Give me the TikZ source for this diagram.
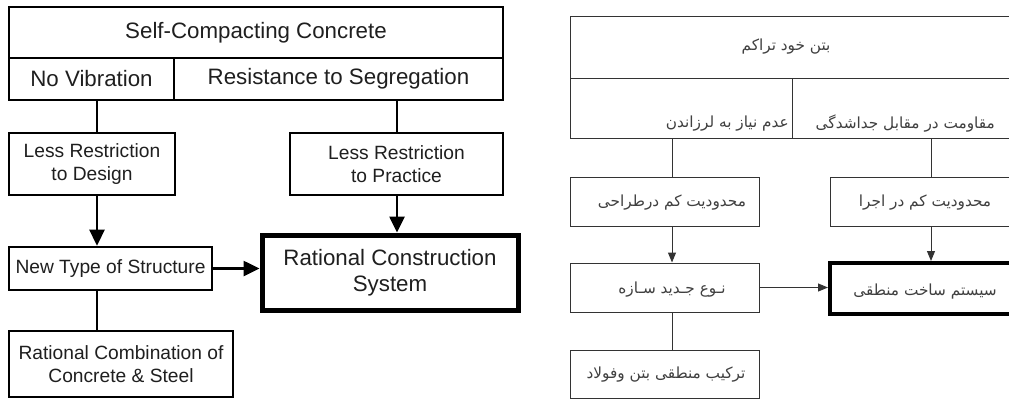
\documentclass[tikz,border=0pt]{standalone}
\usepackage{fontspec}
\setmainfont{Liberation Sans}
\newfontfamily\fa[Script=Arabic]{DejaVu Sans}
\TeXXeTstate=1
\usetikzlibrary{arrows.meta,calc}
\begin{document}
\begin{tikzpicture}[x=1pt,y=-1pt,
  box/.style={draw=black, line width=2.6pt, inner sep=0pt, align=center, text=black!88},
  heavybox/.style={box, line width=5pt},
  big/.style={font=\fontsize{22.3}{26}\selectfont},
  small/.style={font=\fontsize{19.2}{23}\selectfont},
  link/.style={draw=black, line width=2.6pt},
  arrowlink/.style={link, -{Triangle[width=15pt,length=16pt]}},
  pbox/.style={draw=black!80, line width=1pt, inner sep=0pt, text=black!75},
  pheavy/.style={pbox, draw=black, line width=4pt},
  ptxt/.style={inner sep=0pt, text=black!75, font=\fa\fontsize{15.3}{18}\selectfont},
  plink/.style={draw=black!80, line width=1pt},
  parrow/.style={plink, -{Triangle[width=8pt,length=10pt]}},
]
\useasboundingbox (0,0) rectangle (1009,400);
\clip (0,0) rectangle (1009,400);
\fill[white] (0,0) rectangle (1009,400);

% ---------------- English chart ----------------
\node[box, big, minimum width=494pt, minimum height=51pt] (scc) at (256,32.5) {Self-Compacting Concrete};
\node[box, big, minimum width=165pt, minimum height=42pt] (novib) at (91.5,79) {No Vibration};
\node[box, big, minimum width=329pt, minimum height=42pt] (segr) at (338.5,79) {Resistance to Segregation};
\node[box, small, minimum width=166pt, minimum height=62pt] (design) at (92,164) {Less Restriction\\to Design};
\node[box, small, minimum width=213pt, minimum height=62pt] (practice) at (396.5,164) {Less Restriction\\to Practice};
\node[box, small, minimum width=203pt, minimum height=43pt] (newtype) at (110.5,268.5) {New Type of Structure};
\node[heavybox, big, minimum width=256pt, minimum height=75pt] (rcs) at (390,272.5) {Rational Construction\\System};
\node[box, small, minimum width=224pt, minimum height=66pt] (combo) at (121,364) {Rational Combination of\\Concrete \& Steel};

\coordinate (colA) at (97,0);
\coordinate (colB) at (397,0);
\draw[link] (novib.south -| colA) -- (design.north -| colA);
\draw[link] (segr.south -| colB) -- (practice.north -| colB);
\draw[arrowlink] (design.south -| colA) -- (newtype.north -| colA);
\draw[arrowlink] (practice.south -| colB) -- (rcs.north -| colB);
\draw[arrowlink] (newtype.east) -- (newtype.east -| rcs.west);
\draw[link] (newtype.south -| colA) -- (combo.north -| colA);

% ---------------- Persian chart ----------------
\node[pbox, minimum width=450pt, minimum height=62pt] (pscc) at (795,47) {};
\node[pbox, minimum width=222pt, minimum height=60pt] (pnovib) at (681,108) {};
\node[pbox, minimum width=228pt, minimum height=60pt] (psegr) at (906,108) {};
\node[pbox, minimum width=189pt, minimum height=49pt] (pdesign) at (664.5,201.5) {};
\node[pbox, minimum width=190pt, minimum height=49pt] (ppractice) at (925,201.5) {};
\node[pbox, minimum width=189pt, minimum height=49pt] (pnew) at (664.5,287.5) {};
\node[pheavy, minimum width=190pt, minimum height=51pt] (prcs) at (925,288.5) {};
\node[pbox, minimum width=189pt, minimum height=48pt] (pcombo) at (664.5,374) {};

\node[ptxt] (tscc) at (786,47) {\beginR بتن خود تراکم\endR};
\node[ptxt, anchor=east] (tnovib) at (789,124) {\beginR عدم نیاز به لرزاندن\endR};
\node[ptxt, anchor=east] (tsegr) at (995,124) {\beginR مقاومت در مقابل جداشدگی\endR};
\node[ptxt] (tdesign) at (672,203) {\beginR محدودیت کم درطراحی\endR};
\node[ptxt] (tpractice) at (925,203) {\beginR محدودیت کم در اجرا\endR};
\node[ptxt] (tnew) at (672,290) {\beginR نـوع جـدید سـازه\endR};
\node[ptxt] (trcs) at (925,292) {\beginR سیستم ساخت منطقی\endR};
\node[ptxt] (tcombo) at (666,375) {\beginR ترکیب منطقی بتن وفولاد\endR};

\coordinate (colC) at (672,0);
\coordinate (colD) at (931,0);
\draw[plink] (pnovib.south -| colC) -- (pdesign.north -| colC);
\draw[plink] (psegr.south -| colD) -- (ppractice.north -| colD);
\draw[parrow] (pdesign.south -| colC) -- (pnew.north -| colC);
\draw[parrow] (ppractice.south -| colD) -- (prcs.north -| colD);
\draw[parrow] (pnew.east) -- (pnew.east -| prcs.west);
\draw[plink] (pnew.south -| colC) -- (pcombo.north -| colC);
\end{tikzpicture}
\end{document}
